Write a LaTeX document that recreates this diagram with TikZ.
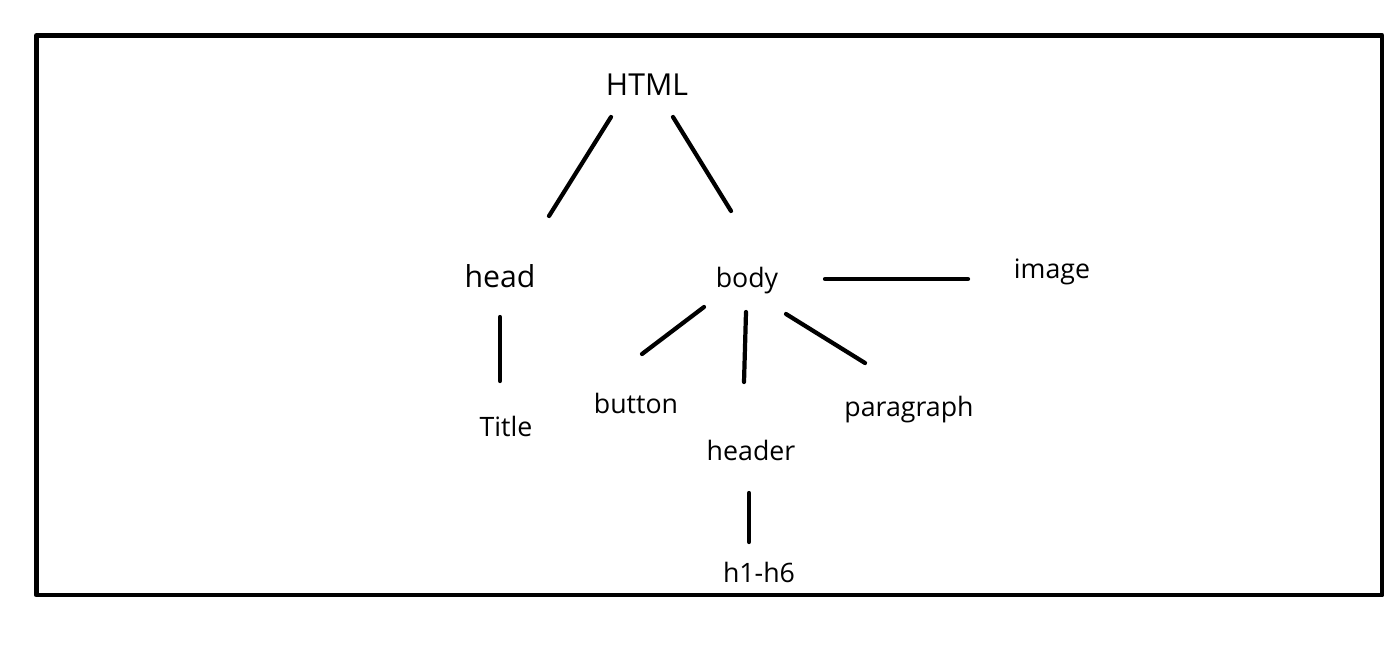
\documentclass[tikz,border=0pt]{standalone}
\usepackage{fontspec}
\setmainfont{Open Sans}
\usepackage{tikz}
\usetikzlibrary{calc}
\tikzset{
    every picture/.style={line cap=round,line join=round},
    tag/.style={inner sep=0pt,anchor=base,font=\fontsize{7.6}{9}\selectfont},
    roottag/.style={tag,font=\fontsize{8.6}{10}\selectfont},
    link/.style={draw=black,line width=1.2pt},
    frame/.style={draw=black,line width=1.4pt,line cap=butt}
}
\begin{document}
\begin{tikzpicture}[x=0.01cm,y=-0.01cm]
  \useasboundingbox (0,0) rectangle (1398,648);
  \draw[frame] (36.5,35.5) rectangle (1382,595);
  % tags
  \node[roottag] (html) at (647,95) {HTML};
  \node[roottag] (head) at (500,287) {head};
  \node[tag] (body) at (747,287) {body};
  \node[tag] (image) at (1052,278) {image};
  \node[tag] (title) at (506,436) {Title};
  \node[tag] (button) at (636,413) {button};
  \node[tag] (header) at (751,460) {header};
  \node[tag] (para) at (909,416) {paragraph};
  \node[tag] (hsix) at (759,582) {h1-h6};
  % links
  \draw[link] ($(html.base)+(-36,22)$) -- ($(head.base)+(49,-71)$);
  \draw[link] ($(html.base)+(26,22)$) -- ($(body.base)+(-16,-76)$);
  \draw[link] ($(head.base)+(0,30)$) -- ($(title.base)+(-6,-55)$);
  \draw[link] ($(body.base)+(-43,20)$) -- ($(button.base)+(6,-59)$);
  \draw[link] ($(body.base)+(-1,25)$) -- ($(header.base)+(-7,-78)$);
  \draw[link] ($(body.base)+(39,27)$) -- ($(para.base)+(-44,-53)$);
  \draw[link] ($(body.base)+(78,-8)$) -- ($(image.base)+(-84,1)$);
  \draw[link] ($(header.base)+(-2,33)$) -- ($(hsix.base)+(-10,-40)$);
\end{tikzpicture}
\end{document}
